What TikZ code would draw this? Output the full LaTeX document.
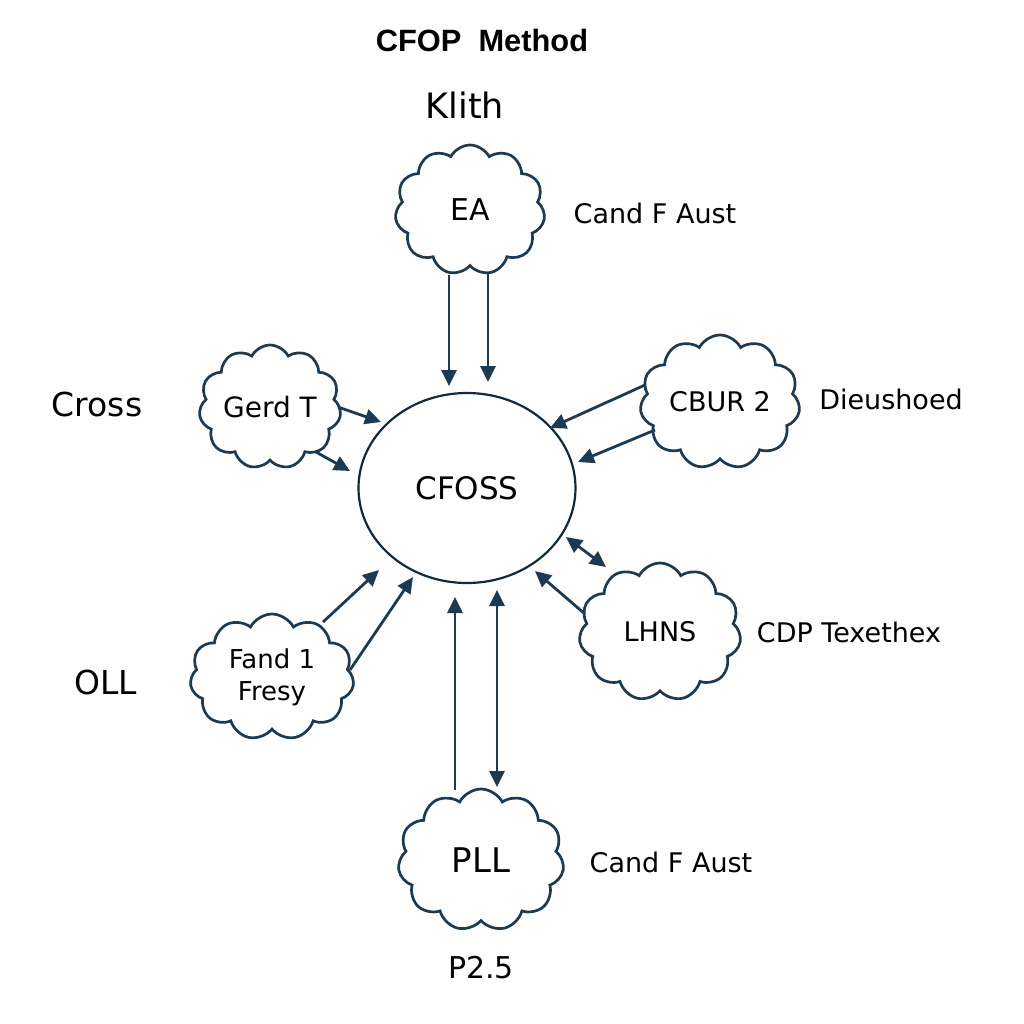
\documentclass[tikz,border=0pt]{standalone}
\usepackage{fontspec}
\setmainfont{DejaVu Sans}
\newfontfamily\titlefont{Liberation Sans}
\usetikzlibrary{shapes.symbols,shapes.geometric,arrows.meta}
\definecolor{navy}{HTML}{1C3A52}
\begin{document}
\begin{tikzpicture}[x=0.5pt,y=-0.5pt,
 cloudbox/.style={cloud, cloud puffs=11, cloud puff arc=125, cloud ignores aspect, draw=navy, line width=1.35pt, inner sep=0pt, font=\fontsize{13.5}{16}\selectfont, align=center},
 lbl/.style={font=\fontsize{13.5}{16}\selectfont, inner sep=0pt},
 side/.style={font=\fontsize{16.5}{18}\selectfont, inner sep=0pt},
 arr/.style={draw=navy, line width=1.4pt, -{Triangle[length=8pt,width=7.5pt]}},
 darr/.style={draw=navy, line width=1.4pt, {Triangle[length=8pt,width=7.5pt]}-{Triangle[length=8pt,width=7.5pt]}},
]
\useasboundingbox (0,0) rectangle (1024,1024);
\fill[white] (0,0) rectangle (1024,1024);

% central ellipse
\node[ellipse, draw=navy!70!black, line width=1.1pt, minimum width=108.5pt, minimum height=95pt, inner sep=0pt, font=\fontsize{15.5}{18}\selectfont] (core) at (467,488) {CFOSS};

% clouds
\node[cloudbox, minimum width=75pt, minimum height=65pt, font=\fontsize{15}{18}\selectfont] (ea) at (470,210) {EA};
\node[cloudbox, minimum width=71pt, minimum height=62pt, font=\fontsize{14}{16}\selectfont] (gerd) at (270,407) {Gerd T};
\node[cloudbox, minimum width=80pt, minimum height=67pt] (cbur) at (720,402) {CBUR 2};
\node[cloudbox, minimum width=81pt, minimum height=69pt] (lhns) at (660,632) {LHNS};
\node[cloudbox, minimum width=82pt, minimum height=63pt, font=\fontsize{13}{16}\selectfont] (fand) at (272,677) {Fand 1\\Fresy};
\node[cloudbox, minimum width=83pt, minimum height=71pt, font=\fontsize{17}{20}\selectfont] (pll) at (481,860) {PLL};

% texts
\node[font=\titlefont\bfseries\fontsize{15.4}{18}\selectfont, inner sep=0pt] (title) at (482,40) {CFOP\ \ Method};
\node[font=\fontsize{17.5}{20}\selectfont, inner sep=0pt] (klith) at (465,105) {Klith};
\node[lbl] (t1) at (655,213) {Cand F Aust};
\node[lbl] (t2) at (891,399) {Dieushoed};
\node[lbl] (t3) at (849,632) {CDP Texethex};
\node[lbl] (t4) at (671,862) {Cand F Aust};
\node[side] (cross) at (97,404) {Cross};
\node[side] (oll) at (106,682) {OLL};
\node[font=\fontsize{15}{18}\selectfont, inner sep=0pt] (p25) at (481,968) {P2.5};

% connectors
\draw[arr] ([shift={(-21,65)}]ea.center) -- ([shift={(-18,-102)}]core.center);
\draw[arr] ([shift={(18,62)}]ea.center) -- ([shift={(21,-106)}]core.center);
\draw[arr] ([shift={(68,0)}]gerd.center) -- ([shift={(-86,-66)}]core.center);
\draw[arr] ([shift={(46,45)}]gerd.center) -- ([shift={(-117,-17)}]core.center);
\draw[arr] ([shift={(-75,-17)}]cbur.center) -- ([shift={(83,-60)}]core.center);
\draw[arr] ([shift={(-65,28)}]cbur.center) -- ([shift={(111,-26)}]core.center);
\draw[darr] ([shift={(99,49)}]core.center) -- ([shift={(-54,-65)}]lhns.center);
\draw[arr] ([shift={(-75,-18)}]lhns.center) -- ([shift={(68,83)}]core.center);
\draw[arr] ([shift={(51,-55)}]fand.center) -- ([shift={(-88,82)}]core.center);
\draw[arr] ([shift={(78,-7)}]fand.center) -- ([shift={(-54,89)}]core.center);
\draw[arr] ([shift={(-26,-70)}]pll.center) -- ([shift={(-12,109)}]core.center);
\draw[darr] ([shift={(30,102)}]core.center) -- ([shift={(16,-73)}]pll.center);
\end{tikzpicture}
\end{document}
